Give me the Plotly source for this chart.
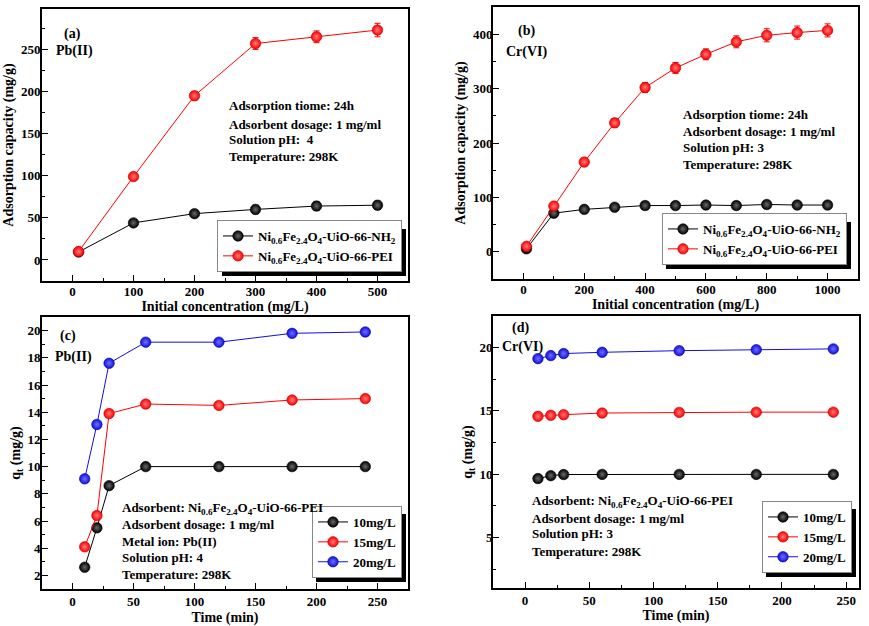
import plotly.graph_objects as go

W, H = 869, 626

# ---------------- data ----------------
conc_pb = [10, 100, 200, 300, 400, 500]
pb_nh2 = [9.5, 44, 55, 60, 64, 65]
pb_nh2_err = [3, 3, 4, 5, 5, 5]
pb_pei = [10, 99, 195, 257, 265, 273]
pb_pei_err = [3, 4, 5, 7, 7, 8]

conc_cr = [10, 100, 200, 300, 400, 500, 600, 700, 800, 900, 1000]
cr_nh2 = [5.5, 71, 78, 82, 85, 85, 86, 85, 87, 86, 86]
cr_nh2_err = [4, 5, 5, 6, 6, 6, 6, 6, 6, 6, 6]
cr_pei = [10, 84, 165, 237, 302, 338, 363, 386, 398, 403, 407]
cr_pei_err = [5, 6, 7, 8, 9, 10, 10, 11, 12, 12, 12]

time_min = [10, 20, 30, 60, 120, 180, 240]
pb_10 = [2.6, 5.5, 8.6, 10.0, 10.0, 10.0, 10.0]
pb_15 = [4.1, 6.4, 13.9, 14.6, 14.5, 14.9, 15.0]
pb_20 = [9.1, 13.1, 17.6, 19.15, 19.15, 19.8, 19.9]

cr_10 = [9.65, 9.88, 9.97, 9.98, 9.98, 9.98, 9.98]
cr_15 = [14.57, 14.65, 14.7, 14.83, 14.88, 14.9, 14.9]
cr_20 = [19.13, 19.37, 19.53, 19.63, 19.76, 19.84, 19.9]

name_nh2 = "Ni<sub>0.6</sub>Fe<sub>2.4</sub>O<sub>4</sub>-UiO-66-NH<sub>2</sub>"
name_pei = "Ni<sub>0.6</sub>Fe<sub>2.4</sub>O<sub>4</sub>-UiO-66-PEI"
conc_names = ["10mg/L", "15mg/L", "20mg/L"]

# ---------------- styling ----------------
FONT = "Liberation Serif"
BLACK, RED, BLUE = "#000000", "#ff0000", "#1010e0"
LIGHT = {BLACK: "#6a6a6a", RED: "#ff7a7a", BLUE: "#7070ff"}
EDGE = {BLACK: "#000000", RED: "#c00000", BLUE: "#0000a0"}


def px(x):
    return x / W


def py(y):
    return 1 - y / H


def marker(c):
    return dict(size=10.5, color=c, symbol="circle",
                gradient=dict(type="radial", color=LIGHT[c]),
                line=dict(width=0.6, color=EDGE[c]))


fig = go.Figure()


def add(x, y, c, name, xa, ya, legend, err=None):
    tr = go.Scatter(x=x, y=y, mode="lines+markers", name=name,
                    line=dict(color=c, width=1), marker=marker(c),
                    xaxis=xa, yaxis=ya, legend=legend)
    if err is not None:
        tr.error_y = dict(type="data", array=err, color=c, thickness=1, width=3)
    fig.add_trace(tr)


add(conc_pb, pb_nh2, BLACK, name_nh2, "x", "y", "legend", pb_nh2_err)
add(conc_pb, pb_pei, RED, name_pei, "x", "y", "legend", pb_pei_err)
add(conc_cr, cr_nh2, BLACK, name_nh2, "x2", "y2", "legend2", cr_nh2_err)
add(conc_cr, cr_pei, RED, name_pei, "x2", "y2", "legend2", cr_pei_err)
for ys, c, n in zip([pb_10, pb_15, pb_20], [BLACK, RED, BLUE], conc_names):
    add(time_min, ys, c, n, "x3", "y3", "legend3")
for ys, c, n in zip([cr_10, cr_15, cr_20], [BLACK, RED, BLUE], conc_names):
    add(time_min, ys, c, n, "x4", "y4", "legend4")

tickfont = dict(family=FONT, size=13, color="black", weight="bold")
titlefont = dict(family=FONT, size=14, color="black", weight="bold")


def axis(domain, rng, dtick, minor, title, anchor, standoff, lab_off):
    return dict(domain=domain, range=rng, dtick=dtick, tick0=0,
                ticks="inside", ticklen=6, tickwidth=1.2, tickcolor="black",
                minor=dict(dtick=minor, tick0=0, ticks="inside", ticklen=3,
                           tickwidth=1, tickcolor="black"),
                showline=True, linecolor="black", linewidth=1.6, mirror=True,
                showgrid=False, zeroline=False, tickfont=tickfont,
                title=dict(text=title, font=titlefont, standoff=standoff),
                anchor=anchor, ticklabelstandoff=lab_off)


xa_a = [px(42), px(408)]
xa_b = [px(493), px(858)]
ya_top_a = [py(281), py(9)]
ya_top_b = [py(279), py(7)]
ya_c = [py(589), py(317)]
ya_d = [py(588), py(316)]

fig.update_layout(
    width=W, height=H, margin=dict(l=0, r=0, t=0, b=0),
    paper_bgcolor="white", plot_bgcolor="white",
    font=dict(family=FONT, color="black"),
    xaxis=axis(xa_a, [-50, 550], 100, 50, "Initial concentration (mg/L)", "y", 2, -2),
    yaxis=axis(ya_top_a, [-25, 298], 50, 25, "Adsorption capacity (mg/g)", "x", 4, -3),
    xaxis2=axis(xa_b, [-100, 1100], 200, 100, "Initial concentration (mg/L)", "y2", 2, -2),
    yaxis2=axis(ya_top_b, [-50, 450], 100, 50, "Adsorption capacity (mg/g)", "x2", 4, -4),
    xaxis3=axis(xa_a, [-25, 275], 50, 25, "Time (min)", "y3", 6, 0),
    yaxis3=axis(ya_c, [1, 21], 2, 1, "q<sub>t</sub> (mg/g)", "x3", 4, -3),
    xaxis4=axis([px(493), px(859)], [-25, 260], 50, 25, "Time (min)", "y4", 3, 0),
    yaxis4=axis(ya_d, [1, 22.5], 5, 2.5, "q<sub>t</sub> (mg/g)", "x4", 4, -4),
)

legfont = dict(family=FONT, size=13, color="black", weight="bold")


def legend(xr, yb):
    return dict(x=px(xr), y=py(yb), xanchor="right", yanchor="bottom",
                bgcolor="white", bordercolor="#888888", borderwidth=1,
                font=legfont, tracegroupgap=0, itemwidth=30,
                traceorder="normal")


fig.update_layout(legend=legend(402, 272), legend2=legend(847, 265),
                  legend3=legend(402, 578), legend4=legend(852, 573))

# legend drop-shadows (paper coordinates of the boxes)
shadows = [(218, 225, 402, 272), (662, 218, 847, 265),
           (312, 510, 402, 578), (762, 505, 852, 573)]
for x0, y0, x1, y1 in shadows:
    fig.add_shape(type="rect", xref="paper", yref="paper",
                  x0=px(x0 + 4), x1=px(x1 + 4), y0=py(y1 + 4), y1=py(y0 + 4),
                  fillcolor="black", line=dict(width=0), layer="above")

annfont = dict(family=FONT, size=13, color="black", weight="bold")


def note(text, x, y, anchor="left", size=13):
    f = dict(annfont)
    f["size"] = size
    fig.add_annotation(text=text, x=px(x), y=py(y), xref="paper", yref="paper",
                       xanchor=anchor, yanchor="middle", showarrow=False, font=f)


# panel labels
note("(a)", 72, 34, "center", 14)
note("Pb(II)", 74, 51, "center", 14)
note("(b)", 526, 31, "center", 14)
note("Cr(VI)", 527, 52, "center", 14)
note("(c)", 68, 336, "center", 14)
note("Pb(II)", 73, 357, "center", 14)
note("(d)", 520, 328, "center", 14)
note("Cr(VI)", 523, 347, "center", 14)

# condition notes
for t, y in zip(["Adsorption tiome: 24h", "Adsorbent dosage: 1 mg/ml",
                 "Solution pH:  4", "Temperature: 298K"], [106, 124, 139, 156]):
    note(t, 227, y)
for t, y in zip(["Adsorption tiome: 24h", "Adsorbent dosage: 1 mg/ml",
                 "Solution pH: 3", "Temperature: 298K"], [114, 131, 147, 164]):
    note(t, 681, y)
for t, y in zip(["Adsorbent: Ni<sub>0.6</sub>Fe<sub>2.4</sub>O<sub>4</sub>-UiO-66-PEI",
                 "Adsorbent dosage: 1 mg/ml", "Metal ion: Pb(II)",
                 "Solution pH: 4", "Temperature: 298K"], [508, 524, 541, 557, 574]):
    note(t, 120, y)
for t, y in zip(["Adsorbent: Ni<sub>0.6</sub>Fe<sub>2.4</sub>O<sub>4</sub>-UiO-66-PEI",
                 "Adsorbent dosage: 1 mg/ml", "Solution pH: 3",
                 "Temperature: 298K"], [501, 518, 533, 551]):
    note(t, 530, y)

fig.write_html("out.html")
